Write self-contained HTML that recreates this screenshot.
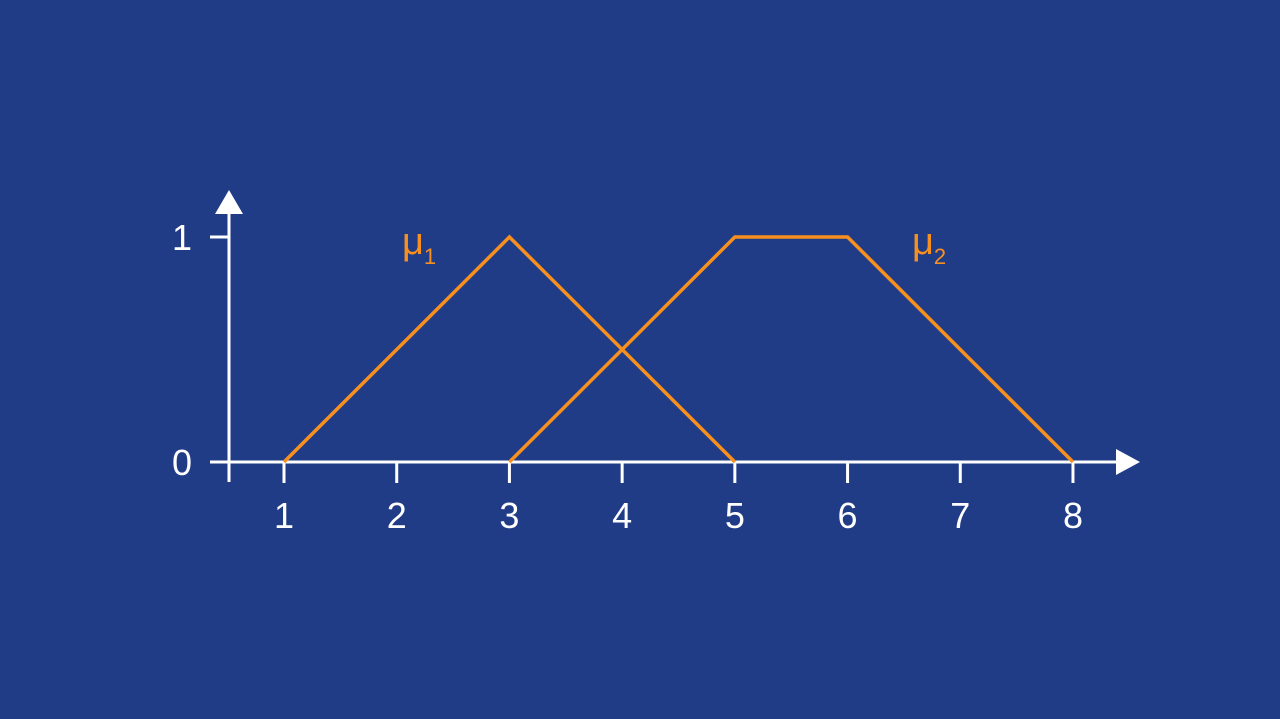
<!DOCTYPE html>
<html><head><meta charset="utf-8"><style>
html,body{margin:0;padding:0;background:#213c87;}
svg{display:block;font-family:"Liberation Sans",sans-serif;}
</style></head><body>
<svg width="1280" height="719" viewBox="0 0 1280 719">
<rect width="1280" height="719" fill="#213c87"/>
<g id="axes"></g>
<g id="series"></g>
<text x="402" y="254" font-size="38" fill="#f7901e">μ<tspan font-size="22" dy="10">1</tspan></text>
<text x="912" y="254" font-size="38" fill="#f7901e">μ<tspan font-size="22" dy="10">2</tspan></text>
</svg>
<script>
const xTicks = [1,2,3,4,5,6,7,8];
const yTicks = [0,1];
const mu1X = [1,3,5];
const mu1Y = [0,1,0];
const mu2X = [3,5,6,8];
const mu2Y = [0,1,1,0];

const NS = "http://www.w3.org/2000/svg";
const sx = v => 171.3 + v*112.71;
const sy = v => 462 - v*225;
function mk(tag, attrs, parent){const e=document.createElementNS(NS,tag);for(const k in attrs)e.setAttribute(k,attrs[k]);parent.appendChild(e);return e;}
const ax = document.getElementById('axes');
let e;
e = mk('line',{x1:210,y1:462,x2:1120,y2:462,stroke:'#fff','stroke-width':3},ax);


e = mk('polygon',{points:'1116,449 1140,462 1116,475',fill:'#fff'},ax);


e = mk('line',{x1:229,y1:482,x2:229,y2:212,stroke:'#fff','stroke-width':3},ax);


e = mk('polygon',{points:'215,214 229,190 243,214',fill:'#fff'},ax);


xTicks.forEach(t=>{
  const x=sx(t);
  let l=mk('line',{x1:x,y1:462,x2:x,y2:483,stroke:'#fff','stroke-width':3},ax);
  
  
  let tx=mk('text',{x:x,y:528,'text-anchor':'middle','font-size':36,fill:'#fff'},ax);
  tx.textContent=t;
  
  
});
yTicks.forEach(t=>{
  const y=sy(t);
  let l=mk('line',{x1:210,y1:y,x2:229,y2:y,stroke:'#fff','stroke-width':3},ax);
  
  
  let tx=mk('text',{x:182,y:y+13,'text-anchor':'middle','font-size':36,fill:'#fff'},ax);
  tx.textContent=t;
  
  
});
const sg=document.getElementById('series');
function line(xs,ys,name){
  const p=mk('polyline',{points:xs.map((v,i)=>sx(v)+','+sy(ys[i])).join(' '),fill:'none',stroke:'#f7901e','stroke-width':3.5,'stroke-linejoin':'miter'},sg);
  
  
}
line(mu1X,mu1Y,'mu1-line');
line(mu2X,mu2Y,'mu2-line');
</script>
</body></html>
